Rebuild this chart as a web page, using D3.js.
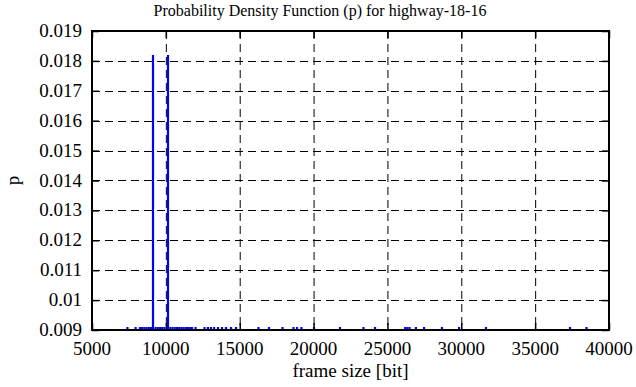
<!DOCTYPE html>
<html>
<head>
<meta charset="utf-8">
<script src="https://cdn.jsdelivr.net/npm/d3@7"></script>
<style>
	body { margin: 0; background: #fff; }
	svg text { font-family: "Liberation Serif", "Times New Roman", serif; fill: #000; }
</style>
</head>
<body>
<svg id="chart"></svg>
<script>
'use strict'

// frame sizes [bit] and probability for each bin
var frameSizes = [9130, 10145,
	7400, 7950, 8250, 8400, 8550, 8700, 8850, 9000, 9300, 9450, 9600, 9750, 9900,
	10300, 10450, 10600, 10750, 10900, 11050, 11200, 11350, 11500, 11650, 11770,
	12010, 12620, 12850, 13050, 13260, 13530, 13800, 14070, 14410, 14750,
	16270, 16980, 17900, 18640, 18880, 19180, 20030, 21790, 23380, 24160,
	26200, 26350, 26500, 26930, 27480, 28690, 29850, 31670, 37360, 38480];
var probs = [0.0182, 0.0182,
	0.00003, 0.00003, 0.0001, 0.0001, 0.0001, 0.0002, 0.0002, 0.0003, 0.0003, 0.0003, 0.0002, 0.0002, 0.0002,
	0.0002, 0.0002, 0.0001, 0.0001, 0.0001, 0.0001, 0.0001, 0.0001, 0.0001, 0.0001, 0.0001,
	0.00003, 0.00003, 0.00003, 0.00003, 0.00003, 0.00003, 0.00003, 0.00003, 0.00003, 0.00003,
	0.00003, 0.00003, 0.00003, 0.00003, 0.00003, 0.00003, 0.00003, 0.00003, 0.00003, 0.00003,
	0.00003, 0.00003, 0.00003, 0.00003, 0.00003, 0.00003, 0.00003, 0.00003, 0.00003, 0.00003];

var xTicks = [5000, 10000, 15000, 20000, 25000, 30000, 35000, 40000];
var yTicks = [0.009, 0.010, 0.011, 0.012, 0.013, 0.014, 0.015, 0.016, 0.017, 0.018, 0.019];

var titleText = "Probability Density Function (p) for highway-18-16",
	xLabel = "frame size [bit]",
	yLabel = "p";

var WIDTH = 636,
	HEIGHT = 387;

var margin = { top: 31, right: 27, bottom: 57, left: 92 };

var lineColor = "#0000ff";

var svg = d3.select("#chart")
	.attr("width", WIDTH)
	.attr("height", HEIGHT);

var plotW = WIDTH - margin.left - margin.right,
	plotH = HEIGHT - margin.top - margin.bottom;

var x = d3.scaleLinear().domain([5000, 40000]).range([margin.left, margin.left + plotW]);
var y = d3.scaleLinear().domain([0.009, 0.019]).range([margin.top + plotH, margin.top]).clamp(true);

// grid
var grid = svg.append("g")
	.attr("stroke", "#000")
	.attr("stroke-width", 1)
	.attr("stroke-dasharray", "8,5");

grid.selectAll(".gx")
	.data(xTicks.slice(1, -1))
	.enter().append("line")
	.attr("x1", function(d) { return x(d) + 0.5 })
	.attr("x2", function(d) { return x(d) + 0.5 })
	.attr("y1", margin.top)
	.attr("y2", margin.top + plotH);

grid.selectAll(".gy")
	.data(yTicks.slice(1, -1))
	.enter().append("line")
	.attr("y1", function(d) { return Math.round(y(d)) + 0.5 })
	.attr("y2", function(d) { return Math.round(y(d)) + 0.5 })
	.attr("x1", margin.left)
	.attr("x2", margin.left + plotW);

// impulses
var data = frameSizes.map(function(d, i) { return { x: d, p: probs[i] } });

svg.append("g")
	.attr("stroke", lineColor)
	.attr("stroke-width", 2.2)
	.selectAll("line")
	.data(data)
	.enter().append("line")
	.attr("x1", function(d) { return x(d.x) })
	.attr("x2", function(d) { return x(d.x) })
	.attr("y1", y(0.009))
	.attr("y2", function(d) { return Math.min(y(d.p), y(0.009) - 3) });

// axes (ticks inside, on all four sides)
var tickLen = 7;

var xAxisB = d3.axisBottom(x).tickValues(xTicks).tickSize(-tickLen).tickFormat("");
var xAxisT = d3.axisTop(x).tickValues(xTicks).tickSize(-tickLen).tickFormat("");
var yAxisL = d3.axisLeft(y).tickValues(yTicks).tickSize(-tickLen).tickFormat("");
var yAxisR = d3.axisRight(y).tickValues(yTicks).tickSize(-tickLen).tickFormat("");

[
	[xAxisB, "translate(0," + (margin.top + plotH) + ")"],
	[xAxisT, "translate(0," + margin.top + ")"],
	[yAxisL, "translate(" + margin.left + ",0)"],
	[yAxisR, "translate(" + (margin.left + plotW) + ",0)"]
].forEach(function(a) {
	var g = svg.append("g").attr("transform", a[1]).call(a[0]);
	g.select(".domain").remove();
	g.selectAll("line").attr("stroke", "#000").attr("stroke-width", 1.5);
});

// border
svg.append("rect")
	.attr("x", margin.left)
	.attr("y", margin.top)
	.attr("width", plotW)
	.attr("height", plotH)
	.attr("fill", "none")
	.attr("stroke", "#000")
	.attr("stroke-width", 2);

// tick labels
svg.append("g").selectAll("text")
	.data(xTicks)
	.enter().append("text")
	.attr("x", function(d) { return x(d) })
	.attr("y", 355)
	.attr("text-anchor", "middle")
	.style("font-size", "19px")
	.text(function(d) { return d });

svg.append("g").selectAll("text")
	.data(yTicks)
	.enter().append("text")
	.attr("x", margin.left - 10)
	.attr("y", function(d) { return y(d) + 6 })
	.attr("text-anchor", "end")
	.style("font-size", "19px")
	.text(function(d) { return d3.format("")(+d.toFixed(3)) });

// titles
svg.append("text")
	.attr("x", 320)
	.attr("y", 16)
	.attr("text-anchor", "middle")
	.style("font-size", "16px")
	.text(titleText);

svg.append("text")
	.attr("x", margin.left + plotW / 2)
	.attr("y", 377)
	.attr("text-anchor", "middle")
	.style("font-size", "19px")
	.text(xLabel);

svg.append("text")
	.attr("transform", "translate(19," + (margin.top + plotH / 2) + ") rotate(-90)")
	.attr("text-anchor", "middle")
	.style("font-size", "19px")
	.text(yLabel);
</script>
</body>
</html>
